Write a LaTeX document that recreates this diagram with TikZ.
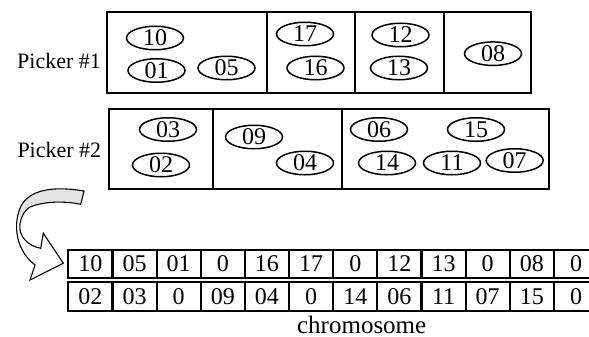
\documentclass[tikz,border=0pt]{standalone}
\usepackage{fontspec}
\setmainfont{Liberation Serif}
\usetikzlibrary{shapes.geometric}
\begin{document}
\begin{tikzpicture}[x=1pt,y=-1pt,
  order/.style={draw, ellipse, line width=1.5pt, minimum width=57pt,
    minimum height=23.5pt, inner sep=0pt, font=\fontsize{24}{24}\selectfont},
  zone/.style={draw, line width=2pt},
  gene/.style={draw, line width=2.1pt, minimum width=44.15pt,
    minimum height=28.4pt, inner sep=0pt, font=\fontsize{24}{24}\selectfont},
  pickerlabel/.style={anchor=base west, inner sep=0pt,
    font=\fontsize{22}{22}\selectfont}]
\useasboundingbox (0,0) rectangle (589,337);

% picker 1 and its zones
\node[pickerlabel] (p1) at (17,68.3) {Picker \#1};
\draw[zone] (106.7,12.3) rectangle (530.7,92.7);
\foreach \x in {267.3,355,444} \draw[zone] (\x,12.3) -- (\x,92.7);
\node[order] (o10) at (155,38) {10};
\node[order] (o01) at (156.5,70.5) {01};
\node[order] (o05) at (226.5,68) {05};
\node[order] (o17) at (305,34) {17};
\node[order] (o16) at (315.5,68) {16};
\node[order] (o12) at (400.5,35) {12};
\node[order] (o13) at (399,68) {13};
\node[order] (o08) at (493,53.7) {08};

% picker 2 and its zones
\node[pickerlabel] (p2) at (17.3,157.3) {Picker \#2};
\draw[zone] (109.3,108.7) rectangle (549.3,189.3);
\foreach \x in {212.7,341.7} \draw[zone] (\x,108.7) -- (\x,189.3);
\node[order] (o03) at (168,129.5) {03};
\node[order] (o02) at (161,165) {02};
\node[order] (o09) at (254,137) {09};
\node[order] (o04) at (305,163) {04};
\node[order] (o06) at (379,129.5) {06};
\node[order] (o15) at (476,129.5) {15};
\node[order] (o14) at (387,163) {14};
\node[order] (o11) at (452,163) {11};
\node[order] (o07) at (514.7,160.5) {07};

% curved block arrow: shaded back face, then the outline
\fill[gray!22] (84,191) .. controls (55,186) and (30,189) .. (21,206)
  .. controls (19,210) and (18,214) .. (18.5,217) -- (21,217)
  .. controls (23,211) and (26,209) .. (30,207)
  .. controls (45,201) and (65,201) .. (80.7,204.3) -- cycle;
\draw[line width=1.1pt, line join=miter]
  (84,191) .. controls (55,186) and (30,189) .. (21,206)
  .. controls (14,220) and (13,248) .. (35,265)
  -- (30,280) -- (63.3,263.3) -- (43.3,233.3) -- (40.7,248.3)
  .. controls (28,246) and (18,236) .. (20,224)
  .. controls (21,216) and (25,210) .. (30,207)
  .. controls (45,201) and (65,201) .. (80.7,204.3) -- cycle;

% chromosome: two rows of genes
\foreach \v [count=\i] in {10,05,01,0,16,17,0,12,13,0,08,0}
  \node[gene] (a\i) at ({68.3+44.15*(\i-0.5)},264) {\v};
\foreach \v [count=\i] in {02,03,0,09,04,0,14,06,11,07,15,0}
  \node[gene] (b\i) at ({68.3+44.15*(\i-0.5)},296.4) {\v};
\node[anchor=base, inner sep=0pt, font=\fontsize{25}{25}\selectfont]
  (chrom) at (361.7,333) {chromosome};
\end{tikzpicture}
\end{document}
